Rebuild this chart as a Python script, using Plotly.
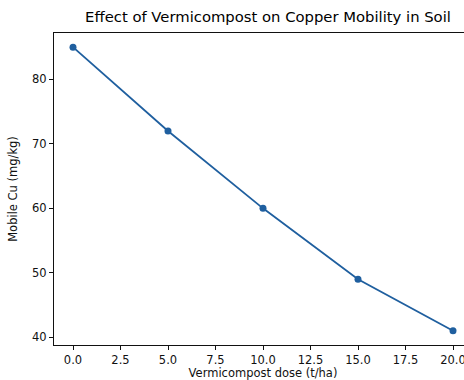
import plotly.graph_objects as go

dose = [0, 5, 10, 15, 20]
mobile_cu = [85, 72, 60, 49, 41]
x_ticks = [0, 2.5, 5, 7.5, 10, 12.5, 15, 17.5, 20]
x_tick_labels = ["0.0", "2.5", "5.0", "7.5", "10.0", "12.5", "15.0", "17.5", "20.0"]
y_ticks = [40, 50, 60, 70, 80]

title = "Effect of Vermicompost on Copper Mobility in Soil"
x_title = "Vermicompost dose (t/ha)"
y_title = "Mobile Cu (mg/kg)"

font = "DejaVu Sans"

fig = go.Figure(go.Scatter(
    x=dose, y=mobile_cu, mode="lines+markers",
    line=dict(color="#1f5f9f", width=1.8),
    marker=dict(color="#1f5f9f", size=7),
))

ax = dict(showgrid=False, zeroline=False, showline=True, linecolor="#111",
          linewidth=1.2, mirror=True, ticks="outside", ticklen=4, tickwidth=1,
          tickcolor="#111", tickfont=dict(family=font, size=11.5, color="#111"),
          automargin=False)

fig.update_layout(
    width=480, height=380,
    margin=dict(l=54, r=8, t=33, b=35),
    paper_bgcolor="white", plot_bgcolor="white",
    showlegend=False,
    title=dict(text=title, x=268/480, xanchor="center", y=1 - 17/380, yanchor="middle",
               font=dict(family=font, size=14.8, color="#000")),
    xaxis=dict(ax, range=[-1, 21], tickvals=x_ticks, ticktext=x_tick_labels,
               title=dict(text=x_title, font=dict(family=font, size=11.5, color="#111"), standoff=1)),
    yaxis=dict(ax, range=[38.8, 87.2], tickvals=y_ticks,
               title=dict(text=y_title, font=dict(family=font, size=11.5, color="#111"), standoff=11)),
)

fig.write_html("out.html", config={"displayModeBar": False},
               post_script="document.body.style.margin='0';document.body.style.overflow='hidden';document.documentElement.style.overflow='hidden';")
